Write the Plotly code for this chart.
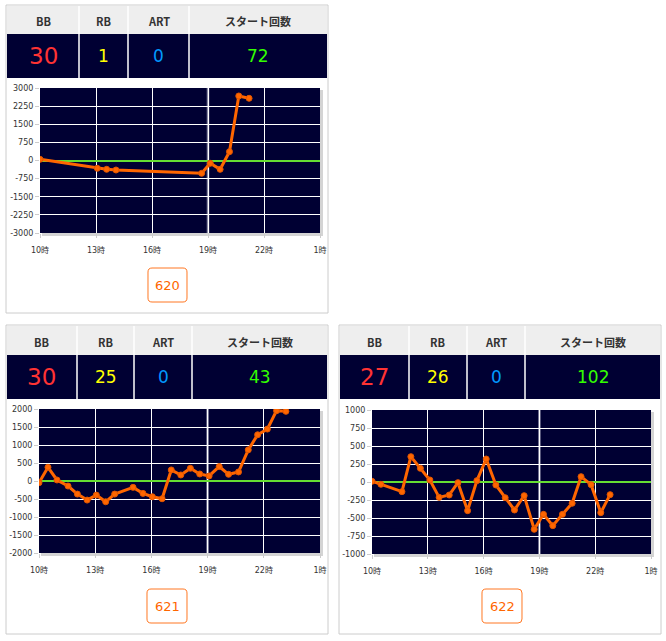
import plotly.graph_objects as go

W, H = 666, 641

# ---------------- data ----------------
machine_ids = ["620", "621", "622"]
bb_counts = [30, 30, 27]
rb_counts = [1, 25, 26]
art_counts = [0, 0, 0]
start_counts = [72, 43, 102]
header_labels = ["BB", "RB", "ART", "スタート回数"]
hour_ticks = [10, 13, 16, 19, 22, 25]
hour_labels = ["10時", "13時", "16時", "19時", "22時", "1時"]

yticks_620 = [3000, 2250, 1500, 750, 0, -750, -1500, -2250, -3000]
yticks_621 = [2000, 1500, 1000, 500, 0, -500, -1000, -1500, -2000]
yticks_622 = [1000, 750, 500, 250, 0, -250, -500, -750, -1000]

hours_620 = [10.0, 13.07, 13.57, 14.07, 18.66, 19.12, 19.65, 20.15, 20.65, 21.2]
diff_620 = [50, -323, -365, -393, -530, -116, -365, 365, 2670, 2575]

hours_621 = [10.0, 10.48, 10.96, 11.55, 12.05, 12.57, 13.06, 13.56, 14.04, 15.02,
             15.55, 16.05, 16.57, 17.06, 17.57, 18.08, 18.58, 19.08, 19.62, 20.12,
             20.65, 21.17, 21.67, 22.19, 22.68, 23.18]
diff_621 = [-47, 381, 28, -140, -363, -530, -391, -577, -363, -177,
            -344, -437, -493, 307, 167, 353, 195, 140, 400, 186,
            251, 865, 1284, 1442, 1953, 1935]

hours_622 = [10.0, 10.48, 11.61, 12.09, 12.6, 13.11, 13.61, 14.15, 14.62, 15.14,
             15.64, 16.14, 16.66, 17.16, 17.66, 18.18, 18.72, 19.22, 19.72, 20.24,
             20.76, 21.24, 21.78, 22.3, 22.8]
diff_622 = [10, -32, -134, 352, 190, 28, -213, -181, -9, -398,
            19, 319, -42, -218, -389, -190, -657, -449, -606, -449,
            -296, 74, -37, -426, -176]

series_hours = [hours_620, hours_621, hours_622]
series_diff = [diff_620, diff_621, diff_622]
series_yticks = [yticks_620, yticks_621, yticks_622]

# ---------------- geometry (pixels) ----------------
panels = [
    dict(box=(6, 5, 328, 313), head=(6, 34), data=(34, 78), cols=[7, 79, 128, 189, 327],
         plot=(40, 88, 320, 233), btn=(148, 268, 187, 302)),
    dict(box=(6, 325, 328, 634), head=(326, 355), data=(355, 399), cols=[7, 77, 134, 192, 327],
         plot=(39, 409, 320, 553), btn=(147, 589, 187, 623)),
    dict(box=(339, 325, 661, 634), head=(326, 355), data=(355, 399), cols=[340, 409, 467, 525, 660],
         plot=(372, 410, 651, 554), btn=(482, 589, 522, 623)),
]

NAVY = "#000033"
ORANGE = "#ff6600"
val_colors = ["#ff3333", "#ffff00", "#0099ff", "#33ff00"]


def X(px):
    return px / W


def Y(py):
    return 1 - py / H


def rect(x0, y0, x1, y1, **kw):
    return dict(type="rect", xref="paper", yref="paper", x0=X(x0), x1=X(x1),
                y0=Y(y1), y1=Y(y0), layer="below", **kw)


def rrect_path(x0, y0, x1, y1, r):
    pts = [
        ("M", [(x0 + r, y0)]), ("L", [(x1 - r, y0)]), ("Q", [(x1, y0), (x1, y0 + r)]),
        ("L", [(x1, y1 - r)]), ("Q", [(x1, y1), (x1 - r, y1)]), ("L", [(x0 + r, y1)]),
        ("Q", [(x0, y1), (x0, y1 - r)]), ("L", [(x0, y0 + r)]), ("Q", [(x0, y0), (x0 + r, y0)]),
    ]
    s = ""
    for cmd, ps in pts:
        s += cmd + " " + " ".join(f"{X(a):.5f},{Y(b):.5f}" for a, b in ps) + " "
    return s + "Z"


fig = go.Figure()
shapes = []
annotations = []

for i, p in enumerate(panels):
    ax = "" if i == 0 else str(i + 1)
    xa, ya = "x" + ax, "y" + ax
    bx0, by0, bx1, by1 = p["box"]
    shapes.append(rect(bx0, by0, bx1, by1, line=dict(color="#cccccc", width=1), fillcolor="rgba(0,0,0,0)"))
    cols = p["cols"]
    h0, h1 = p["head"]
    d0, d1 = p["data"]
    shapes.append(rect(cols[0], h0, cols[-1], h1, line=dict(width=0), fillcolor="#eeeeee"))
    shapes.append(rect(cols[0], d0, cols[-1], d1, line=dict(width=0), fillcolor=NAVY))
    for c in cols[1:-1]:
        shapes.append(dict(type="line", xref="paper", yref="paper", x0=X(c), x1=X(c),
                           y0=Y(d1), y1=Y(h0), line=dict(color="white", width=1.5)))
    values = [bb_counts[i], rb_counts[i], art_counts[i], start_counts[i]]
    for k in range(4):
        cx = (cols[k] + cols[k + 1]) / 2
        annotations.append(dict(xref="paper", yref="paper", x=X(cx), y=Y((h0 + h1) / 2 + 1),
                                text="<b>" + header_labels[k] + "</b>", showarrow=False,
                                xanchor="center", yanchor="middle",
                                font=dict(family="Noto Sans CJK JP", size=11, color="#333333")))
        annotations.append(dict(xref="paper", yref="paper", x=X(cx), y=Y((d0 + d1) / 2),
                                text=str(values[k]), showarrow=False,
                                xanchor="center", yanchor="middle",
                                font=dict(family="DejaVu Sans", size=23 if k == 0 else 17,
                                          color=val_colors[k])))

    # plot area
    px0, py0, px1, py1 = p["plot"]
    # shadow strips
    shapes.append(rect(px1, py0 + 2, px1 + 3, py1 + 3, line=dict(width=0), fillcolor="#d4d4d4"))
    shapes.append(rect(px0 + 2, py1, px1 + 3, py1 + 3, line=dict(width=0), fillcolor="#d4d4d4"))

    yt = series_yticks[i]
    fig.add_trace(go.Scatter(
        x=series_hours[i], y=series_diff[i], mode="lines+markers", xaxis=xa, yaxis=ya,
        line=dict(color=ORANGE, width=3),
        marker=dict(size=6, color=ORANGE, line=dict(color="#e05500", width=1)),
        showlegend=False, hoverinfo="skip"))

    axis_font = dict(family="DejaVu Sans, Noto Sans CJK JP", size=8, color="#333333")
    fig.update_layout(**{
        "xaxis" + ax: dict(domain=[X(px0), X(px1)], range=[10, 25], tickvals=hour_ticks,
                           ticktext=hour_labels, showgrid=True, gridcolor="white", gridwidth=1,
                           zeroline=False, showline=False, ticks="outside", ticklen=4,
                           tickcolor="#cccccc", tickfont=axis_font, ticklabelstandoff=5,
                           anchor=ya, fixedrange=True, automargin=False),
        "yaxis" + ax: dict(domain=[Y(py1), Y(py0)], range=[min(yt), max(yt)],
                           tickvals=yt, ticktext=[str(v) for v in yt],
                           showgrid=True, gridcolor="white", gridwidth=1,
                           zeroline=True, zerolinecolor="#66dd33", zerolinewidth=2,
                           showline=False, ticks="outside", ticklen=4, tickcolor="#cccccc",
                           tickfont=axis_font, anchor=xa, fixedrange=True, automargin=False),
    })
    # highlighted 19時 line
    shapes.append(dict(type="line", xref=xa, yref=ya + " domain", x0=19, x1=19, y0=0, y1=1,
                       layer="below", line=dict(color="#8a8aa6", width=2.5)))

    # button
    b0, b1, b2, b3 = p["btn"]
    shapes.append(dict(type="path", xref="paper", yref="paper", path=rrect_path(b0, b1, b2, b3, 4),
                       line=dict(color="#ff7722", width=1), fillcolor="white"))
    annotations.append(dict(xref="paper", yref="paper", x=X((b0 + b2) / 2), y=Y((b1 + b3) / 2),
                            text=machine_ids[i], showarrow=False, xanchor="center", yanchor="middle",
                            font=dict(family="DejaVu Sans", size=13, color=ORANGE)))

fig.update_layout(
    width=W, height=H, margin=dict(l=0, r=0, t=0, b=0, pad=0, autoexpand=False),
    paper_bgcolor="white", plot_bgcolor=NAVY,
    shapes=shapes, annotations=annotations,
)

fig.write_html("out.html")
